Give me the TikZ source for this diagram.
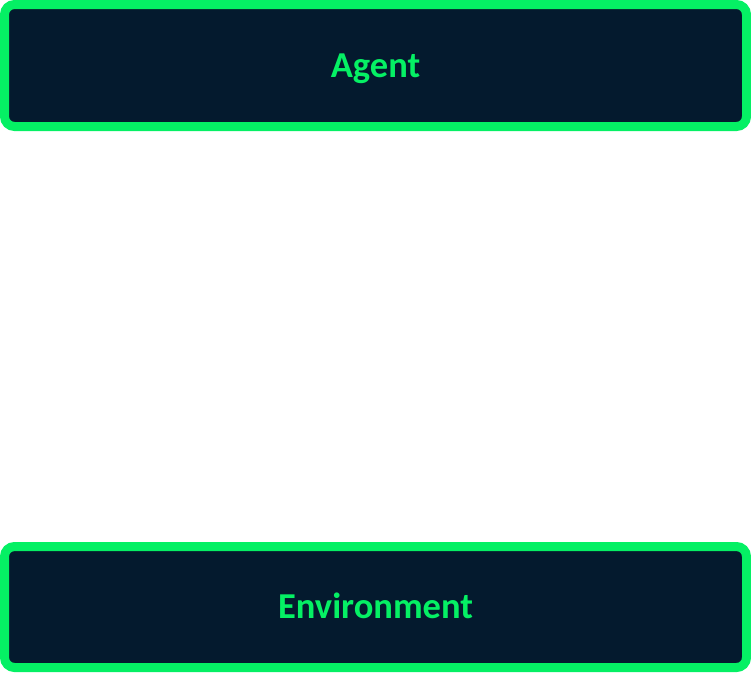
\documentclass[tikz,border=0pt]{standalone}
\usepackage{fontspec}
\setmainfont{Carlito}
\definecolor{agreen}{RGB}{5,240,100}
\definecolor{anavy}{RGB}{4,26,46}
\begin{document}
\begin{tikzpicture}[x=1pt,y=-1pt,
  boxstyle/.style={draw=agreen, fill=anavy, line width=9pt, rounded corners=10pt,
    minimum width=742pt, inner sep=0pt, text=agreen, text height=23pt, text depth=0pt,
    font=\fontsize{36.5}{40}\selectfont\bfseries}]
\useasboundingbox (0,0) rectangle (751,673);
\node[boxstyle, minimum height=122pt] (agent) at (375.5,65.5) {Agent};
\node[boxstyle, minimum height=121pt] (env) at (375.5,607) {Environment};
\end{tikzpicture}
\end{document}
